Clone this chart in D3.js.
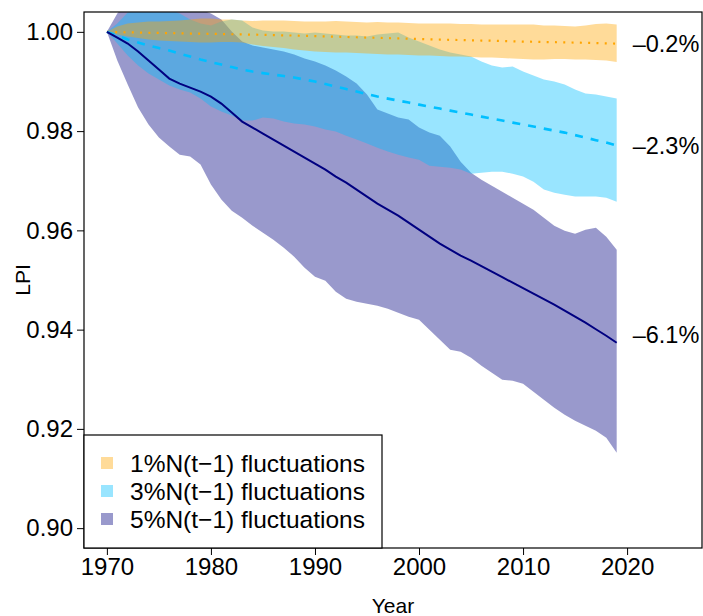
<!DOCTYPE html>
<html>
<head>
<meta charset="utf-8">
<script src="https://cdnjs.cloudflare.com/ajax/libs/d3/7.8.5/d3.min.js"></script>
<style>
body { margin: 0; background: #fff; }
svg { display: block; font-family: "Liberation Sans", Arial, Helvetica, sans-serif; }
</style>
</head>
<body>
<svg id="chart" width="703" height="616"></svg>
<script>
// years on the x axis
var years = d3.range(1970, 2020);

// 1% N(t-1) fluctuations : mean and band
var mean1 = [1.00000, 0.99994, 0.99990, 0.99986, 0.99982, 0.99978, 0.99974, 0.99970, 0.99966, 0.99964,
  0.99960, 0.99956, 0.99952, 0.99948, 0.99944, 0.99940, 0.99933, 0.99929, 0.99925, 0.99919,
  0.99915, 0.99909, 0.99903, 0.99897, 0.99891, 0.99885, 0.99879, 0.99873, 0.99867, 0.99861,
  0.99855, 0.99849, 0.99845, 0.99839, 0.99835, 0.99829, 0.99825, 0.99821, 0.99815, 0.99810,
  0.99804, 0.99800, 0.99796, 0.99792, 0.99788, 0.99784, 0.99778, 0.99774, 0.99768, 0.99764];
var hi1 = [1.00000, 1.00107, 1.00167, 1.00187, 1.00208, 1.00208, 1.00218, 1.00228, 1.00248, 1.00268,
  1.00268, 1.00248, 1.00248, 1.00228, 1.00218, 1.00228, 1.00228, 1.00228, 1.00218, 1.00208,
  1.00208, 1.00208, 1.00218, 1.00208, 1.00198, 1.00187, 1.00198, 1.00187, 1.00187, 1.00177,
  1.00167, 1.00167, 1.00167, 1.00167, 1.00157, 1.00157, 1.00147, 1.00147, 1.00147, 1.00147,
  1.00147, 1.00147, 1.00127, 1.00127, 1.00117, 1.00107, 1.00127, 1.00157, 1.00167, 1.00147];
var lo1 = [1.00000, 0.99946, 0.99905, 0.99875, 0.99845, 0.99825, 0.99815, 0.99804, 0.99794, 0.99784,
  0.99784, 0.99794, 0.99794, 0.99784, 0.99744, 0.99714, 0.99694, 0.99673, 0.99643, 0.99623,
  0.99603, 0.99593, 0.99583, 0.99583, 0.99573, 0.99563, 0.99552, 0.99542, 0.99542, 0.99532,
  0.99522, 0.99522, 0.99512, 0.99502, 0.99502, 0.99492, 0.99482, 0.99482, 0.99472, 0.99462,
  0.99452, 0.99442, 0.99442, 0.99452, 0.99452, 0.99442, 0.99442, 0.99431, 0.99421, 0.99391];

// 3% N(t-1) fluctuations
var mean3 = [1.00000, 0.99925, 0.99845, 0.99784, 0.99724, 0.99673, 0.99623, 0.99563, 0.99502, 0.99442,
  0.99391, 0.99341, 0.99290, 0.99240, 0.99200, 0.99169, 0.99139, 0.99109, 0.99079, 0.99038,
  0.98998, 0.98948, 0.98897, 0.98847, 0.98796, 0.98746, 0.98696, 0.98655, 0.98615, 0.98575,
  0.98534, 0.98494, 0.98454, 0.98413, 0.98373, 0.98333, 0.98292, 0.98252, 0.98212, 0.98171,
  0.98131, 0.98091, 0.98050, 0.98010, 0.97970, 0.97919, 0.97869, 0.97818, 0.97768, 0.97708];
var hi3 = [1.00000, 1.00167, 1.00389, 1.00450, 1.00490, 1.00490, 1.00450, 1.00369, 1.00248, 1.00167,
  1.00127, 1.00208, 1.00248, 1.00228, 1.00087, 1.00026, 1.00006, 1.00006, 0.99986, 0.99966,
  0.99986, 0.99966, 0.99946, 0.99925, 0.99925, 0.99905, 0.99946, 0.99966, 0.99986, 0.99885,
  0.99804, 0.99724, 0.99643, 0.99583, 0.99542, 0.99502, 0.99401, 0.99321, 0.99280, 0.99300,
  0.99200, 0.99119, 0.99038, 0.98998, 0.98938, 0.98837, 0.98756, 0.98736, 0.98696, 0.98655];
var lo3 = [1.00000, 0.99764, 0.99522, 0.99321, 0.99159, 0.99038, 0.98917, 0.98837, 0.98776, 0.98655,
  0.98494, 0.98393, 0.98313, 0.98212, 0.98212, 0.98272, 0.98252, 0.98192, 0.98151, 0.98131,
  0.98091, 0.98030, 0.97990, 0.97909, 0.97829, 0.97748, 0.97667, 0.97587, 0.97526, 0.97466,
  0.97425, 0.97304, 0.97284, 0.97264, 0.97224, 0.97143, 0.97163, 0.97183, 0.97183, 0.97143,
  0.97083, 0.96982, 0.96821, 0.96760, 0.96720, 0.96680, 0.96680, 0.96680, 0.96659, 0.96579];

// 5% N(t-1) fluctuations
var mean5 = [1.00000, 0.99885, 0.99764, 0.99603, 0.99421, 0.99240, 0.99058, 0.98958, 0.98877, 0.98796,
  0.98696, 0.98554, 0.98373, 0.98192, 0.98071, 0.97950, 0.97829, 0.97708, 0.97587, 0.97466,
  0.97345, 0.97224, 0.97083, 0.96962, 0.96821, 0.96680, 0.96538, 0.96417, 0.96296, 0.96155,
  0.96014, 0.95873, 0.95732, 0.95611, 0.95490, 0.95389, 0.95278, 0.95167, 0.95057, 0.94946,
  0.94835, 0.94724, 0.94613, 0.94502, 0.94381, 0.94260, 0.94139, 0.94008, 0.93877, 0.93736];
var hi5 = [1.00000, 1.00369, 1.00611, 1.00651, 1.00712, 1.00712, 1.00651, 1.00591, 1.00510, 1.00450,
  1.00369, 1.00248, 1.00006, 0.99804, 0.99724, 0.99683, 0.99643, 0.99603, 0.99542, 0.99462,
  0.99401, 0.99321, 0.99220, 0.99099, 0.98958, 0.98736, 0.98433, 0.98353, 0.98272, 0.98232,
  0.98071, 0.97970, 0.97909, 0.97688, 0.97385, 0.97163, 0.97022, 0.96901, 0.96780, 0.96659,
  0.96538, 0.96417, 0.96256, 0.96095, 0.95994, 0.95933, 0.96014, 0.96054, 0.95873, 0.95611];
var lo5 = [1.00000, 0.99421, 0.98938, 0.98474, 0.98131, 0.97869, 0.97688, 0.97526, 0.97486, 0.97325,
  0.96922, 0.96620, 0.96397, 0.96256, 0.96095, 0.95954, 0.95813, 0.95651, 0.95470, 0.95248,
  0.95067, 0.94986, 0.94764, 0.94623, 0.94563, 0.94522, 0.94482, 0.94422, 0.94341, 0.94260,
  0.94200, 0.93998, 0.93797, 0.93595, 0.93554, 0.93434, 0.93273, 0.93131, 0.92990, 0.92970,
  0.92910, 0.92748, 0.92587, 0.92426, 0.92285, 0.92164, 0.92063, 0.91962, 0.91821, 0.91518];

var seriesNames = ["1%N(t\u22121) fluctuations", "3%N(t\u22121) fluctuations", "5%N(t\u22121) fluctuations"];
var endLabels = ["\u20130.2%", "\u20132.3%", "\u20136.1%"];
var yTicks = [0.90, 0.92, 0.94, 0.96, 0.98, 1.00];
var xTicks = [1970, 1980, 1990, 2000, 2010, 2020];

( function () {

// colours, R style: line colour and same colour at 40% for the band
var colors = ["orange", "deepskyblue", "navy"];
var dashes = ["2,6.3", "8,8", null];
var widths = [2.2, 2.6, 2];
var labelNudge = [0, 0, -8];

var svg = d3.select("#chart");
// plot region (careful: "top" is taken by window)
var pl = 84, pr = 702, pt = 12, pb = 548;

// R adds 4% either side
var x = d3.scaleLinear().domain([1967.8, 2027.2]).range([pl, pr]);
var y = d3.scaleLinear().domain([0.896, 1.004]).range([pb, pt]);

svg.append("clipPath").attr("id", "plotclip")
  .append("rect").attr("x", pl).attr("y", pt)
  .attr("width", pr - pl).attr("height", pb - pt);

var series = [
  { mean: mean1, hi: hi1, lo: lo1 },
  { mean: mean3, hi: hi3, lo: lo3 },
  { mean: mean5, hi: hi5, lo: lo5 }
];

var area = d3.area()
  .x(function (d) { return x(d.year); })
  .y0(function (d) { return y(d.lo); })
  .y1(function (d) { return y(d.hi); });

var line = d3.line()
  .x(function (d) { return x(d.year); })
  .y(function (d) { return y(d.mean); });

function rows(s) {
  return years.map(function (yr, i) {
    return { year: yr, mean: s.mean[i], hi: s.hi[i], lo: s.lo[i] };
  });
}

var plot = svg.append("g").attr("clip-path", "url(#plotclip)");

// bands: 5% first, then 3%, then 1% on top
[2, 1, 0].forEach(function (k) {
  plot.append("path")
    .datum(rows(series[k]))
    .attr("d", area)
    .attr("fill", colors[k])
    .attr("fill-opacity", 0.4);
});

// mean lines
[0, 1, 2].forEach(function (k) {
  plot.append("path")
    .datum(rows(series[k]))
    .attr("d", line)
    .attr("fill", "none")
    .attr("stroke", colors[k])
    .attr("stroke-width", widths[k])
    .attr("stroke-dasharray", dashes[k]);
});

// axes
var yAxis = svg.append("g")
  .attr("transform", "translate(" + pl + ",0)")
  .call(d3.axisLeft(y).tickValues(yTicks).tickFormat(d3.format(".2f")).tickSize(7).tickPadding(4));
var xAxis = svg.append("g")
  .attr("transform", "translate(0," + pb + ")")
  .call(d3.axisBottom(x).tickValues(xTicks).tickFormat(d3.format("d")).tickSize(7).tickPadding(3));

[yAxis, xAxis].forEach(function (a) {
  a.select(".domain").remove();
  a.selectAll("text").attr("font-size", 24).attr("font-family", null).attr("fill", "#000");
  a.selectAll("line").attr("stroke", "#000");
});

// box round the plot
svg.append("rect")
  .attr("x", pl).attr("y", pt)
  .attr("width", pr - pl).attr("height", pb - pt)
  .attr("fill", "none").attr("stroke", "#000").attr("stroke-width", 1.2);

// end labels, drawn over the box edge like the original
[0, 1, 2].forEach(function (k) {
  var last = series[k].mean[years.length - 1];
  svg.append("text")
    .attr("x", x(years[years.length - 1]) + 16)
    .attr("y", y(last) + labelNudge[k])
    .attr("dy", "0.35em")
    .attr("font-size", 23.5)
    .attr("fill", "#000")
    .text(endLabels[k]);
});

// axis titles
svg.append("text")
  .attr("x", (pl + pr) / 2)
  .attr("y", 613)
  .attr("text-anchor", "middle")
  .attr("font-size", 21)
  .text("Year");

svg.append("text")
  .attr("transform", "translate(30,280) rotate(-90)")
  .attr("text-anchor", "middle")
  .attr("font-size", 21)
  .text("LPI");

// legend, bottom left
var legend = svg.append("g");
legend.append("rect")
  .attr("x", pl).attr("y", 435)
  .attr("width", 382 - pl).attr("height", pb - 435)
  .attr("fill", "#fff").attr("stroke", "#000").attr("stroke-width", 1.2);

seriesNames.forEach(function (name, k) {
  var cy = 463 + k * 28;
  legend.append("rect")
    .attr("x", 101).attr("y", cy - 6)
    .attr("width", 12).attr("height", 12)
    .attr("fill", colors[k]).attr("fill-opacity", 0.4);
  legend.append("text")
    .attr("x", 130).attr("y", cy)
    .attr("dy", "0.35em")
    .attr("font-size", 24.5)
    .text(name);
});

} )();
</script>
</body>
</html>
